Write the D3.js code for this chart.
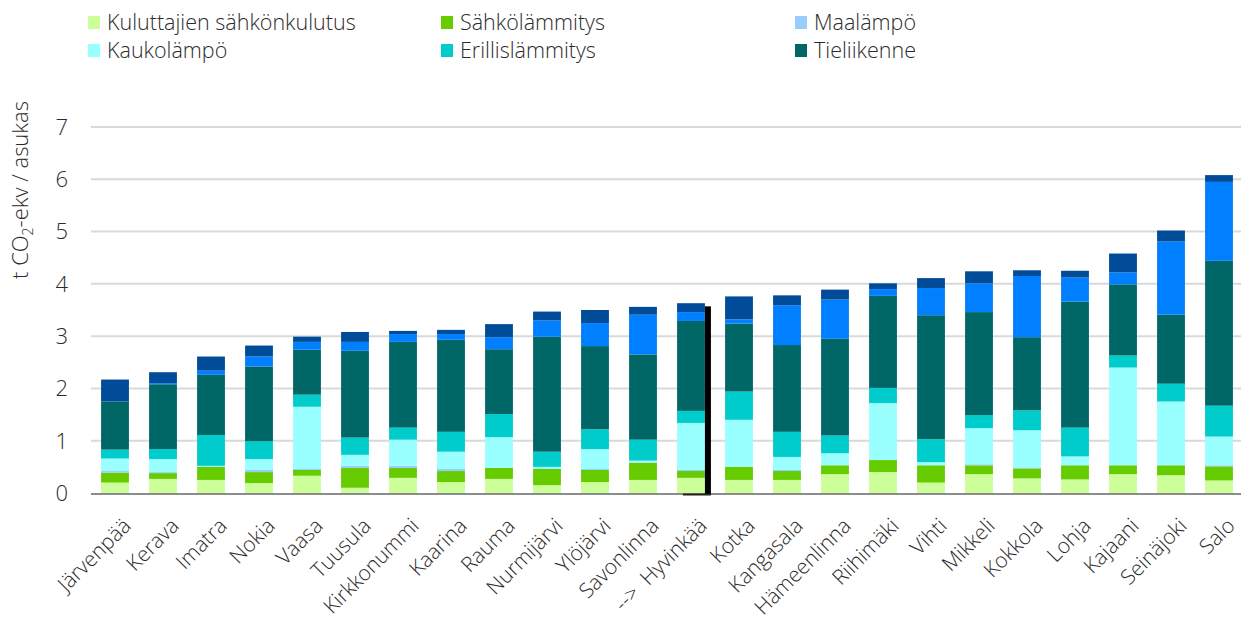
<!DOCTYPE html>
<html>
<head>
<meta charset="utf-8">
<script src="https://cdn.jsdelivr.net/npm/d3@7"></script>
<style>
  body { margin: 0; background: #fff; }
  text { font-family: "Open Sans", "Lato", sans-serif; font-weight: 300; fill: #2b2b2b; }
</style>
</head>
<body>
<div class="chart"></div>
<script>
// kunnat, järjestetty kokonaispäästön mukaan
var cities = ["Järvenpää", "Kerava", "Imatra", "Nokia", "Vaasa", "Tuusula", "Kirkkonummi", "Kaarina",
  "Rauma", "Nurmijärvi", "Ylöjärvi", "Savonlinna", "Hyvinkää", "Kotka", "Kangasala", "Hämeenlinna",
  "Riihimäki", "Vihti", "Mikkeli", "Kokkola", "Lohja", "Kajaani", "Seinäjoki", "Salo"];

var kuluttajat   = [0.20, 0.27, 0.25, 0.19, 0.33, 0.10, 0.29, 0.21, 0.27, 0.15, 0.21, 0.25, 0.29, 0.25, 0.25, 0.36, 0.40, 0.20, 0.36, 0.28, 0.26, 0.36, 0.34, 0.24];
var sahkolammitys = [0.19, 0.11, 0.25, 0.21, 0.11, 0.38, 0.19, 0.21, 0.21, 0.31, 0.23, 0.33, 0.13, 0.25, 0.17, 0.17, 0.23, 0.33, 0.17, 0.19, 0.27, 0.17, 0.19, 0.27];
var maalampo     = [0.03, 0.02, 0.00, 0.04, 0.02, 0.04, 0.04, 0.04, 0.00, 0.00, 0.02, 0.00, 0.02, 0.00, 0.02, 0.00, 0.00, 0.00, 0.02, 0.02, 0.00, 0.00, 0.00, 0.02];
var kaukolampo   = [0.24, 0.25, 0.02, 0.21, 1.19, 0.21, 0.50, 0.33, 0.59, 0.04, 0.38, 0.04, 0.90, 0.90, 0.25, 0.23, 1.09, 0.06, 0.69, 0.71, 0.17, 1.87, 1.22, 0.55];
var erillis      = [0.17, 0.19, 0.59, 0.34, 0.23, 0.33, 0.23, 0.38, 0.44, 0.29, 0.38, 0.40, 0.23, 0.54, 0.48, 0.34, 0.29, 0.44, 0.25, 0.38, 0.55, 0.23, 0.34, 0.59];
var tieliikenne  = [0.92, 1.24, 1.15, 1.43, 0.86, 1.66, 1.64, 1.76, 1.24, 2.20, 1.59, 1.63, 1.72, 1.30, 1.66, 1.85, 1.76, 2.37, 1.97, 1.40, 2.41, 1.36, 1.32, 2.77];
var sininen      = [0.00, 0.02, 0.08, 0.19, 0.15, 0.17, 0.15, 0.11, 0.23, 0.31, 0.44, 0.76, 0.17, 0.08, 0.76, 0.75, 0.13, 0.52, 0.55, 1.17, 0.46, 0.23, 1.40, 1.51];
var tummansininen = [0.42, 0.21, 0.27, 0.21, 0.10, 0.19, 0.06, 0.08, 0.25, 0.17, 0.25, 0.15, 0.17, 0.44, 0.19, 0.19, 0.11, 0.19, 0.23, 0.11, 0.13, 0.36, 0.21, 0.13];

var seriesNames = ["Kuluttajien sähkönkulutus", "Sähkölämmitys", "Maalämpö", "Kaukolämpö",
  "Erillislämmitys", "Tieliikenne", "Muu 1", "Muu 2"];
var seriesValues = [kuluttajat, sahkolammitys, maalampo, kaukolampo, erillis, tieliikenne, sininen, tummansininen];
var colors = ["#ccff99", "#66cc00", "#99ccff", "#99ffff", "#00cccc", "#006666", "#0080ff", "#004c99"];
var legendCount = 6; // vain kuusi ensimmäistä näkyy selitteessä

var yTicks = [0, 1, 2, 3, 4, 5, 6, 7];
var markerCity = "Hyvinkää";
var markerTop = 3.57;

var svgWidth = 1244;
var svgHeight = 623;
var margin = { top: 127, right: 1, bottom: 130, left: 91 };
var width = svgWidth - margin.left - margin.right;
var height = svgHeight - margin.top - margin.bottom;

var svg = d3.select(".chart")
  .append("svg")
  .attr("width", svgWidth)
  .attr("height", svgHeight);

var chart = svg.append("g")
  .attr("transform", "translate(" + margin.left + "," + margin.top + ")");

// rivit pinotulle kaaviolle
var rows = cities.map(function(c, i) {
  var r = { city: c };
  seriesNames.forEach(function(n, j) { r[n] = seriesValues[j][i]; });
  return r;
});

var stack = d3.stack().keys(seriesNames);
var layers = stack(rows);

var xScale = d3.scaleBand()
  .domain(cities)
  .range([0, width])
  .paddingInner(0.42)
  .paddingOuter(0.21);

var yScale = d3.scaleLinear()
  .domain([0, 7])
  .range([height, 0]);

// gridlines
chart.append("g")
  .selectAll("line")
  .data(yTicks.filter(function(d) { return d > 0; }))
  .enter()
  .append("line")
  .attr("x1", 0)
  .attr("x2", width - 2)
  .attr("y1", function(d) { return yScale(d); })
  .attr("y2", function(d) { return yScale(d); })
  .attr("stroke", "#d9d9d9")
  .attr("stroke-width", 2);

// y tick labels
chart.append("g")
  .selectAll("text")
  .data(yTicks)
  .enter()
  .append("text")
  .attr("x", -23)
  .attr("y", function(d) { return yScale(d); })
  .attr("dy", "0.36em")
  .attr("text-anchor", "end")
  .attr("font-size", 22)
  .text(function(d) { return d; });

// bars
chart.append("g")
  .selectAll("g")
  .data(layers)
  .enter()
  .append("g")
  .attr("fill", function(d, i) { return colors[i]; })
  .selectAll("rect")
  .data(function(d) { return d; })
  .enter()
  .append("rect")
  .attr("x", function(d) { return xScale(d.data.city); })
  .attr("y", function(d) { return yScale(d[1]); })
  .attr("width", xScale.bandwidth())
  .attr("height", function(d) { return yScale(d[0]) - yScale(d[1]); });

// x axis line
chart.append("line")
  .attr("x1", 0)
  .attr("x2", width - 2)
  .attr("y1", height + 1)
  .attr("y2", height + 1)
  .attr("stroke", "#8c8c8c")
  .attr("stroke-width", 2);

// musta merkki Hyvinkään kohdalla
var mx = xScale(markerCity) + xScale.bandwidth();
chart.append("rect")
  .attr("x", mx)
  .attr("y", yScale(markerTop))
  .attr("width", 6)
  .attr("height", yScale(0) - yScale(markerTop) + 1)
  .attr("fill", "#000");
chart.append("line")
  .attr("x1", mx - 22)
  .attr("x2", mx + 6)
  .attr("y1", height + 1.5)
  .attr("y2", height + 1.5)
  .attr("stroke", "#222")
  .attr("stroke-width", 2);

// x labels
chart.append("g")
  .selectAll("text")
  .data(cities)
  .enter()
  .append("text")
  .attr("transform", function(d) {
    var cx = xScale(d) + xScale.bandwidth() / 2;
    return "translate(" + (cx + 6) + "," + (height + 23) + ") rotate(-45)";
  })
  .attr("text-anchor", "end")
  .attr("dy", "0.75em")
  .attr("font-size", 21)
  .style("white-space", "pre")
  .text(function(d) { return d === markerCity ? "-->  " + d : d; });

// y axis title
var yTitle = svg.append("text")
  .attr("transform", "translate(28," + 190 + ") rotate(-90)")
  .attr("text-anchor", "middle")
  .attr("font-size", 22);
yTitle.append("tspan").text("t CO");
yTitle.append("tspan").attr("font-size", 14).attr("dy", 5).text("2");
yTitle.append("tspan").attr("dy", -5).text("-ekv / asukas");

// legend
var legendX = [88, 441, 795];
var legendY = [22, 50];
var legend = svg.append("g")
  .selectAll("g")
  .data(seriesNames.slice(0, legendCount))
  .enter()
  .append("g")
  .attr("transform", function(d, i) {
    return "translate(" + legendX[i % 3] + "," + legendY[Math.floor(i / 3)] + ")";
  });
legend.append("rect")
  .attr("x", 0)
  .attr("y", -6)
  .attr("width", 12)
  .attr("height", 13)
  .attr("fill", function(d, i) { return colors[i]; });
legend.append("text")
  .attr("x", 19)
  .attr("y", 0)
  .attr("dy", "0.36em")
  .attr("font-size", 21.5)
  .text(function(d) { return d; });
</script>
</body>
</html>
